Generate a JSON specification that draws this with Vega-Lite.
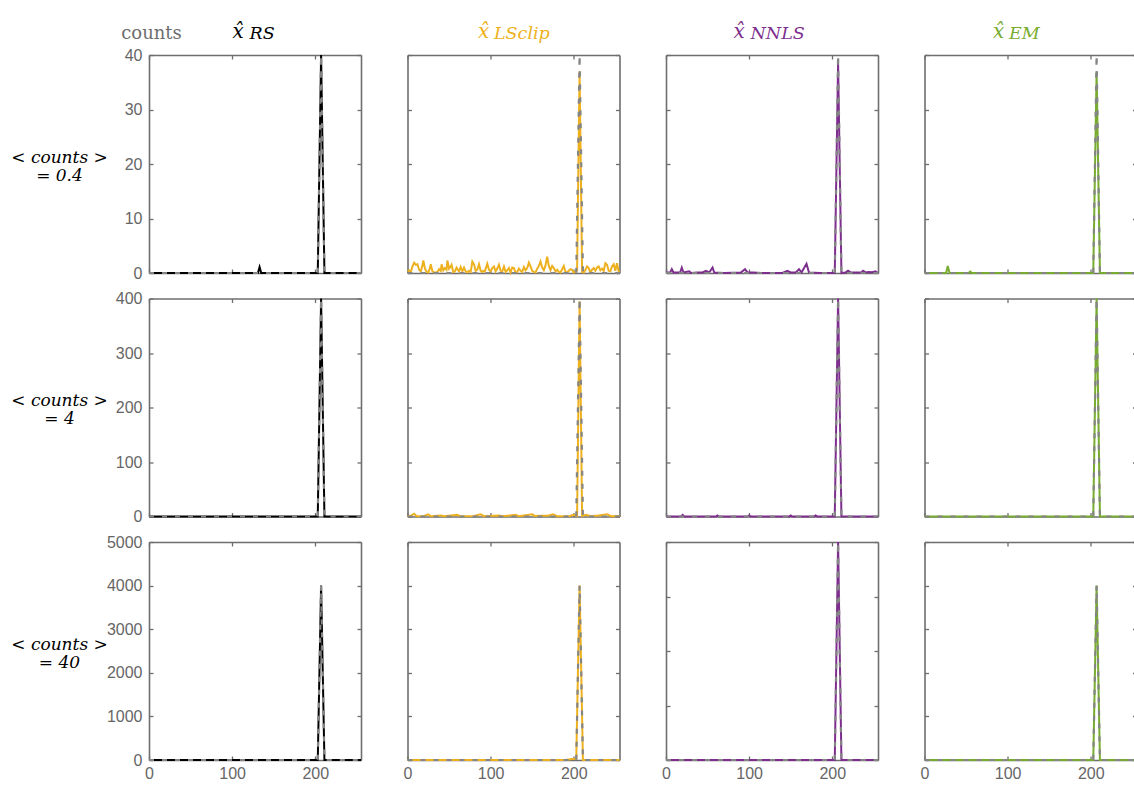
{
"$schema": "https://vega.github.io/schema/vega-lite/v6.json",
"padding": {"left": 10, "top": 21, "right": 0, "bottom": 3},
"background": "white",
"datasets": {
"truth": [
{"r":1,"x":0,"y":0},{"r":1,"x":203,"y":0},{"r":1,"x":207,"y":40},{"r":1,"x":211,"y":0},{"r":1,"x":255,"y":0},
{"r":2,"x":0,"y":0},{"r":2,"x":203,"y":0},{"r":2,"x":207,"y":400},{"r":2,"x":211,"y":0},{"r":2,"x":255,"y":0},
{"r":3,"x":0,"y":0},{"r":3,"x":203,"y":0},{"r":3,"x":207,"y":4000},{"r":3,"x":211,"y":0},{"r":3,"x":255,"y":0}
],
"est": [
{"r":1,"m":"RS","x":0,"y":0},{"r":1,"m":"RS","x":131,"y":0},{"r":1,"m":"RS","x":133,"y":1.1},{"r":1,"m":"RS","x":135,"y":0},{"r":1,"m":"RS","x":203,"y":0},{"r":1,"m":"RS","x":207,"y":40},{"r":1,"m":"RS","x":211,"y":0},{"r":1,"m":"RS","x":255,"y":0},
{"r":2,"m":"RS","x":0,"y":0},{"r":2,"m":"RS","x":203,"y":0},{"r":2,"m":"RS","x":207,"y":400},{"r":2,"m":"RS","x":211,"y":0},{"r":2,"m":"RS","x":255,"y":0},
{"r":3,"m":"RS","x":0,"y":0},{"r":3,"m":"RS","x":203,"y":0},{"r":3,"m":"RS","x":207,"y":4000},{"r":3,"m":"RS","x":211,"y":0},{"r":3,"m":"RS","x":255,"y":0},

{"r":1,"m":"LS","x":0,"y":0.3},{"r":1,"m":"LS","x":2,"y":0.5},{"r":1,"m":"LS","x":4,"y":0.2},{"r":1,"m":"LS","x":6,"y":1.2},{"r":1,"m":"LS","x":8,"y":1.9},{"r":1,"m":"LS","x":10,"y":1.5},{"r":1,"m":"LS","x":12,"y":1.6},{"r":1,"m":"LS","x":14,"y":0.6},{"r":1,"m":"LS","x":16,"y":0.3},{"r":1,"m":"LS","x":18,"y":1.4},{"r":1,"m":"LS","x":19,"y":2.3},{"r":1,"m":"LS","x":21,"y":0.8},{"r":1,"m":"LS","x":23,"y":0.2},{"r":1,"m":"LS","x":25,"y":0.1},{"r":1,"m":"LS","x":27,"y":0.9},{"r":1,"m":"LS","x":28,"y":1.6},{"r":1,"m":"LS","x":30,"y":0.3},{"r":1,"m":"LS","x":32,"y":0.1},{"r":1,"m":"LS","x":34,"y":0.1},{"r":1,"m":"LS","x":36,"y":0.2},{"r":1,"m":"LS","x":38,"y":0.7},{"r":1,"m":"LS","x":40,"y":0.4},{"r":1,"m":"LS","x":41,"y":1.6},{"r":1,"m":"LS","x":43,"y":0.5},{"r":1,"m":"LS","x":45,"y":0.9},{"r":1,"m":"LS","x":47,"y":0.6},{"r":1,"m":"LS","x":48,"y":2.3},{"r":1,"m":"LS","x":50,"y":0.8},{"r":1,"m":"LS","x":52,"y":1.2},{"r":1,"m":"LS","x":53,"y":1.5},{"r":1,"m":"LS","x":55,"y":0.2},{"r":1,"m":"LS","x":57,"y":0.3},{"r":1,"m":"LS","x":59,"y":1.0},{"r":1,"m":"LS","x":61,"y":0.5},{"r":1,"m":"LS","x":62,"y":0.3},{"r":1,"m":"LS","x":64,"y":1.1},{"r":1,"m":"LS","x":66,"y":0.3},{"r":1,"m":"LS","x":68,"y":1.0},{"r":1,"m":"LS","x":70,"y":0.3},{"r":1,"m":"LS","x":72,"y":0.1},{"r":1,"m":"LS","x":74,"y":0.4},{"r":1,"m":"LS","x":76,"y":0.2},{"r":1,"m":"LS","x":78,"y":2.1},{"r":1,"m":"LS","x":80,"y":1.6},{"r":1,"m":"LS","x":82,"y":0.4},{"r":1,"m":"LS","x":84,"y":0.6},{"r":1,"m":"LS","x":86,"y":1.6},{"r":1,"m":"LS","x":88,"y":0.4},{"r":1,"m":"LS","x":90,"y":0.2},{"r":1,"m":"LS","x":91,"y":0.4},{"r":1,"m":"LS","x":93,"y":0.3},{"r":1,"m":"LS","x":96,"y":1.7},{"r":1,"m":"LS","x":98,"y":0.6},{"r":1,"m":"LS","x":100,"y":0.3},{"r":1,"m":"LS","x":102,"y":0.9},{"r":1,"m":"LS","x":104,"y":1.2},{"r":1,"m":"LS","x":106,"y":0.3},{"r":1,"m":"LS","x":108,"y":0.8},{"r":1,"m":"LS","x":110,"y":1.5},{"r":1,"m":"LS","x":112,"y":0.4},{"r":1,"m":"LS","x":114,"y":0.3},{"r":1,"m":"LS","x":116,"y":1.2},{"r":1,"m":"LS","x":118,"y":0.2},{"r":1,"m":"LS","x":120,"y":0.5},{"r":1,"m":"LS","x":122,"y":0.9},{"r":1,"m":"LS","x":124,"y":0.1},{"r":1,"m":"LS","x":126,"y":1.0},{"r":1,"m":"LS","x":128,"y":0.9},{"r":1,"m":"LS","x":130,"y":0.1},{"r":1,"m":"LS","x":132,"y":0.2},{"r":1,"m":"LS","x":134,"y":0.8},{"r":1,"m":"LS","x":136,"y":0.4},{"r":1,"m":"LS","x":138,"y":0.2},{"r":1,"m":"LS","x":140,"y":1.1},{"r":1,"m":"LS","x":142,"y":0.5},{"r":1,"m":"LS","x":144,"y":0.9},{"r":1,"m":"LS","x":146,"y":1.9},{"r":1,"m":"LS","x":148,"y":1.2},{"r":1,"m":"LS","x":150,"y":0.4},{"r":1,"m":"LS","x":152,"y":0.2},{"r":1,"m":"LS","x":154,"y":0.1},{"r":1,"m":"LS","x":156,"y":0.8},{"r":1,"m":"LS","x":158,"y":1.3},{"r":1,"m":"LS","x":160,"y":2.1},{"r":1,"m":"LS","x":162,"y":1.0},{"r":1,"m":"LS","x":164,"y":0.5},{"r":1,"m":"LS","x":166,"y":1.4},{"r":1,"m":"LS","x":168,"y":3.0},{"r":1,"m":"LS","x":170,"y":1.3},{"r":1,"m":"LS","x":172,"y":0.5},{"r":1,"m":"LS","x":174,"y":1.3},{"r":1,"m":"LS","x":176,"y":0.9},{"r":1,"m":"LS","x":178,"y":0.3},{"r":1,"m":"LS","x":180,"y":0.6},{"r":1,"m":"LS","x":182,"y":0.2},{"r":1,"m":"LS","x":184,"y":0.1},{"r":1,"m":"LS","x":186,"y":0.7},{"r":1,"m":"LS","x":188,"y":1.3},{"r":1,"m":"LS","x":190,"y":0.2},{"r":1,"m":"LS","x":192,"y":0.1},{"r":1,"m":"LS","x":194,"y":0.4},{"r":1,"m":"LS","x":196,"y":0.7},{"r":1,"m":"LS","x":198,"y":0.6},{"r":1,"m":"LS","x":200,"y":0.1},{"r":1,"m":"LS","x":202,"y":0.2},{"r":1,"m":"LS","x":204,"y":0.5},{"r":1,"m":"LS","x":207,"y":37},{"r":1,"m":"LS","x":210,"y":0.2},{"r":1,"m":"LS","x":212,"y":0.1},{"r":1,"m":"LS","x":214,"y":0.6},{"r":1,"m":"LS","x":216,"y":1.2},{"r":1,"m":"LS","x":218,"y":0.9},{"r":1,"m":"LS","x":220,"y":0.1},{"r":1,"m":"LS","x":222,"y":0.6},{"r":1,"m":"LS","x":224,"y":0.9},{"r":1,"m":"LS","x":226,"y":0.4},{"r":1,"m":"LS","x":228,"y":1.0},{"r":1,"m":"LS","x":230,"y":1.2},{"r":1,"m":"LS","x":232,"y":0.5},{"r":1,"m":"LS","x":234,"y":0.8},{"r":1,"m":"LS","x":236,"y":0.4},{"r":1,"m":"LS","x":238,"y":1.8},{"r":1,"m":"LS","x":240,"y":1.5},{"r":1,"m":"LS","x":242,"y":0.4},{"r":1,"m":"LS","x":244,"y":0.3},{"r":1,"m":"LS","x":246,"y":1.2},{"r":1,"m":"LS","x":248,"y":1.6},{"r":1,"m":"LS","x":250,"y":0.4},{"r":1,"m":"LS","x":252,"y":1.8},{"r":1,"m":"LS","x":254,"y":0.3},{"r":1,"m":"LS","x":255,"y":0.1},
{"r":2,"m":"LS","x":0,"y":0},{"r":2,"m":"LS","x":5,"y":2},{"r":2,"m":"LS","x":8,"y":5},{"r":2,"m":"LS","x":11,"y":0.5},{"r":2,"m":"LS","x":20,"y":1},{"r":2,"m":"LS","x":25,"y":4},{"r":2,"m":"LS","x":28,"y":0.5},{"r":2,"m":"LS","x":40,"y":2},{"r":2,"m":"LS","x":44,"y":0.3},{"r":2,"m":"LS","x":60,"y":3},{"r":2,"m":"LS","x":63,"y":0.5},{"r":2,"m":"LS","x":80,"y":1},{"r":2,"m":"LS","x":88,"y":4},{"r":2,"m":"LS","x":92,"y":0.5},{"r":2,"m":"LS","x":110,"y":2},{"r":2,"m":"LS","x":114,"y":0.4},{"r":2,"m":"LS","x":130,"y":3},{"r":2,"m":"LS","x":134,"y":0.5},{"r":2,"m":"LS","x":150,"y":4},{"r":2,"m":"LS","x":153,"y":1},{"r":2,"m":"LS","x":170,"y":2},{"r":2,"m":"LS","x":175,"y":4},{"r":2,"m":"LS","x":180,"y":0.5},{"r":2,"m":"LS","x":195,"y":1},{"r":2,"m":"LS","x":200,"y":3},{"r":2,"m":"LS","x":204,"y":1},{"r":2,"m":"LS","x":207,"y":395},{"r":2,"m":"LS","x":210,"y":1},{"r":2,"m":"LS","x":215,"y":3},{"r":2,"m":"LS","x":220,"y":0.5},{"r":2,"m":"LS","x":230,"y":2},{"r":2,"m":"LS","x":240,"y":4},{"r":2,"m":"LS","x":245,"y":0.5},{"r":2,"m":"LS","x":255,"y":1},
{"r":3,"m":"LS","x":0,"y":0},{"r":3,"m":"LS","x":190,"y":0},{"r":3,"m":"LS","x":198,"y":25},{"r":3,"m":"LS","x":203,"y":30},{"r":3,"m":"LS","x":207,"y":4000},{"r":3,"m":"LS","x":211,"y":0},{"r":3,"m":"LS","x":255,"y":0},

{"r":1,"m":"NN","x":0,"y":0.1},{"r":1,"m":"NN","x":5,"y":0.1},{"r":1,"m":"NN","x":7,"y":0.7},{"r":1,"m":"NN","x":9,"y":0.1},{"r":1,"m":"NN","x":17,"y":0.1},{"r":1,"m":"NN","x":19,"y":1.0},{"r":1,"m":"NN","x":21,"y":0.1},{"r":1,"m":"NN","x":28,"y":0.3},{"r":1,"m":"NN","x":30,"y":0},{"r":1,"m":"NN","x":38,"y":0.1},{"r":1,"m":"NN","x":44,"y":0.1},{"r":1,"m":"NN","x":48,"y":0.4},{"r":1,"m":"NN","x":52,"y":0.1},{"r":1,"m":"NN","x":56,"y":1.0},{"r":1,"m":"NN","x":58,"y":0.1},{"r":1,"m":"NN","x":70,"y":0},{"r":1,"m":"NN","x":90,"y":0.1},{"r":1,"m":"NN","x":95,"y":0.7},{"r":1,"m":"NN","x":98,"y":0.1},{"r":1,"m":"NN","x":105,"y":0.1},{"r":1,"m":"NN","x":115,"y":0},{"r":1,"m":"NN","x":140,"y":0},{"r":1,"m":"NN","x":146,"y":0.4},{"r":1,"m":"NN","x":150,"y":0.1},{"r":1,"m":"NN","x":156,"y":0.1},{"r":1,"m":"NN","x":160,"y":0.7},{"r":1,"m":"NN","x":163,"y":0.1},{"r":1,"m":"NN","x":169,"y":1.7},{"r":1,"m":"NN","x":172,"y":0.1},{"r":1,"m":"NN","x":185,"y":0},{"r":1,"m":"NN","x":203,"y":0},{"r":1,"m":"NN","x":207,"y":38.5},{"r":1,"m":"NN","x":211,"y":0},{"r":1,"m":"NN","x":216,"y":0.1},{"r":1,"m":"NN","x":219,"y":0.4},{"r":1,"m":"NN","x":222,"y":0.1},{"r":1,"m":"NN","x":235,"y":0.1},{"r":1,"m":"NN","x":237,"y":0.4},{"r":1,"m":"NN","x":240,"y":0.1},{"r":1,"m":"NN","x":244,"y":0.2},{"r":1,"m":"NN","x":248,"y":0.15},{"r":1,"m":"NN","x":252,"y":0.3},{"r":1,"m":"NN","x":255,"y":0},
{"r":2,"m":"NN","x":0,"y":0},{"r":2,"m":"NN","x":18,"y":0},{"r":2,"m":"NN","x":20,"y":3},{"r":2,"m":"NN","x":22,"y":0},{"r":2,"m":"NN","x":60,"y":0},{"r":2,"m":"NN","x":62,"y":2},{"r":2,"m":"NN","x":64,"y":0},{"r":2,"m":"NN","x":98,"y":0},{"r":2,"m":"NN","x":100,"y":2},{"r":2,"m":"NN","x":102,"y":0},{"r":2,"m":"NN","x":148,"y":0},{"r":2,"m":"NN","x":150,"y":2},{"r":2,"m":"NN","x":152,"y":0},{"r":2,"m":"NN","x":178,"y":0},{"r":2,"m":"NN","x":180,"y":2},{"r":2,"m":"NN","x":182,"y":0},{"r":2,"m":"NN","x":203,"y":0},{"r":2,"m":"NN","x":207,"y":400},{"r":2,"m":"NN","x":211,"y":0},{"r":2,"m":"NN","x":255,"y":0},
{"r":3,"m":"NN","x":0,"y":0},{"r":3,"m":"NN","x":203,"y":0},{"r":3,"m":"NN","x":207,"y":4000},{"r":3,"m":"NN","x":211,"y":0},{"r":3,"m":"NN","x":255,"y":0},

{"r":1,"m":"EM","x":0,"y":0},{"r":1,"m":"EM","x":26,"y":0},{"r":1,"m":"EM","x":28,"y":1.3},{"r":1,"m":"EM","x":30,"y":0},{"r":1,"m":"EM","x":53,"y":0},{"r":1,"m":"EM","x":55,"y":0.25},{"r":1,"m":"EM","x":57,"y":0},{"r":1,"m":"EM","x":203,"y":0},{"r":1,"m":"EM","x":207,"y":37},{"r":1,"m":"EM","x":211,"y":0},{"r":1,"m":"EM","x":255,"y":0},
{"r":2,"m":"EM","x":0,"y":0},{"r":2,"m":"EM","x":203,"y":0},{"r":2,"m":"EM","x":207,"y":400},{"r":2,"m":"EM","x":211,"y":0},{"r":2,"m":"EM","x":255,"y":0},
{"r":3,"m":"EM","x":0,"y":0},{"r":3,"m":"EM","x":203,"y":0},{"r":3,"m":"EM","x":207,"y":4000},{"r":3,"m":"EM","x":211,"y":0},{"r":3,"m":"EM","x":255,"y":0}
]
},
"columns": 4,
"spacing": {"row": 25.5, "column": 46.5},
"bounds": "flush",
"concat": [
{"width":212,"height":218,
 "layer":[
  {"data":{"name":"est"},"transform":[{"filter":"datum.r==1 && datum.m=='RS'"}],"mark":{"type":"line","color":"black","strokeWidth":2},
   "encoding":{"x":{"field":"x","type":"quantitative","scale":{"domain":[0,255]},"axis":{"orient":"bottom","values":[0,100,200],"labels":false,"title":"x\u0302","titleX":83,"titleY":-236,"titleAlign":"left","titleBaseline":"alphabetic","titleAngle":0,"titleFont":"DejaVu Serif","titleFontStyle":"italic","titleFontSize":20,"titleColor":"black"}},
    "y":{"field":"y","type":"quantitative","scale":{"domain":[0,40]},"axis":{"orient":"left","values":[0,10,20,30,40],"title":["< counts >","= 0.4"],"titleAngle":0,"titleAlign":"center","titleBaseline":"middle","titleX":-90,"titleY":102,"titleFont":"DejaVu Serif","titleFontStyle":"italic","titleFontSize":17,"titleColor":"black","titleLineHeight":18}}}},
  {"data":{"name":"truth"},"transform":[{"filter":"datum.r==1"}],"mark":{"type":"line","color":"#858585","strokeWidth":2.2,"strokeDash":[5,8]},
   "encoding":{"x":{"field":"x","type":"quantitative","scale":{"domain":[0,255]},"axis":{"orient":"top","values":[0,100,200],"labels":false,"title":"RS","titleX":100,"titleY":-17,"titleAlign":"left","titleBaseline":"alphabetic","titleFont":"DejaVu Serif","titleFontStyle":"italic","titleFontSize":17.5,"titleColor":"black"}},
    "y":{"field":"y","type":"quantitative","scale":{"domain":[0,40]},"axis":{"orient":"right","values":[0,10,20,30,40],"labels":false,"title":"counts","titleAngle":0,"titleAlign":"center","titleBaseline":"middle","titleX":-210,"titleY":-22,"titleFont":"DejaVu Serif","titleFontSize":18,"titleColor":"#6e6e6e"}}}}
 ],
 "resolve":{"axis":{"x":"independent","y":"independent"}}},
{"width":212,"height":218,
 "layer":[
  {"data":{"name":"est"},"transform":[{"filter":"datum.r==1 && datum.m=='LS'"}],"mark":{"type":"line","color":"#EDB120","strokeWidth":2},
   "encoding":{"x":{"field":"x","type":"quantitative","scale":{"domain":[0,255]},"axis":{"orient":"bottom","values":[0,100,200],"labels":false,"title":"x\u0302","titleX":70,"titleY":-236,"titleAlign":"left","titleBaseline":"alphabetic","titleAngle":0,"titleFont":"DejaVu Serif","titleFontStyle":"italic","titleFontSize":20,"titleColor":"#EDB120"}},
    "y":{"field":"y","type":"quantitative","scale":{"domain":[0,40]},"axis":{"orient":"left","values":[0,10,20,30,40],"labels":false,"title":null}}}},
  {"data":{"name":"truth"},"transform":[{"filter":"datum.r==1"}],"mark":{"type":"line","color":"#858585","strokeWidth":2.2,"strokeDash":[5,8]},
   "encoding":{"x":{"field":"x","type":"quantitative","scale":{"domain":[0,255]},"axis":{"orient":"top","values":[0,100,200],"labels":false,"title":"LSclip","titleX":86,"titleY":-17,"titleAlign":"left","titleBaseline":"alphabetic","titleFont":"DejaVu Serif","titleFontStyle":"italic","titleFontSize":17.5,"titleColor":"#EDB120"}},
    "y":{"field":"y","type":"quantitative","scale":{"domain":[0,40]},"axis":{"orient":"right","values":[0,10,20,30,40],"labels":false,"title":null}}}}
 ],
 "resolve":{"axis":{"x":"independent","y":"independent"}}},
{"width":212,"height":218,
 "layer":[
  {"data":{"name":"est"},"transform":[{"filter":"datum.r==1 && datum.m=='NN'"}],"mark":{"type":"line","color":"#7E2F8E","strokeWidth":2},
   "encoding":{"x":{"field":"x","type":"quantitative","scale":{"domain":[0,255]},"axis":{"orient":"bottom","values":[0,100,200],"labels":false,"title":"x\u0302","titleX":67,"titleY":-236,"titleAlign":"left","titleBaseline":"alphabetic","titleAngle":0,"titleFont":"DejaVu Serif","titleFontStyle":"italic","titleFontSize":20,"titleColor":"#7E2F8E"}},
    "y":{"field":"y","type":"quantitative","scale":{"domain":[0,40]},"axis":{"orient":"left","values":[0,10,20,30,40],"labels":false,"title":null}}}},
  {"data":{"name":"truth"},"transform":[{"filter":"datum.r==1"}],"mark":{"type":"line","color":"#858585","strokeWidth":2.2,"strokeDash":[5,8]},
   "encoding":{"x":{"field":"x","type":"quantitative","scale":{"domain":[0,255]},"axis":{"orient":"top","values":[0,100,200],"labels":false,"title":"NNLS","titleX":84,"titleY":-17,"titleAlign":"left","titleBaseline":"alphabetic","titleFont":"DejaVu Serif","titleFontStyle":"italic","titleFontSize":17.5,"titleColor":"#7E2F8E"}},
    "y":{"field":"y","type":"quantitative","scale":{"domain":[0,40]},"axis":{"orient":"right","values":[0,10,20,30,40],"labels":false,"title":null}}}}
 ],
 "resolve":{"axis":{"x":"independent","y":"independent"}}},
{"width":212,"height":218,
 "layer":[
  {"data":{"name":"est"},"transform":[{"filter":"datum.r==1 && datum.m=='EM'"}],"mark":{"type":"line","color":"#77AC30","strokeWidth":2},
   "encoding":{"x":{"field":"x","type":"quantitative","scale":{"domain":[0,255]},"axis":{"orient":"bottom","values":[0,100,200],"labels":false,"title":"x\u0302","titleX":68,"titleY":-236,"titleAlign":"left","titleBaseline":"alphabetic","titleAngle":0,"titleFont":"DejaVu Serif","titleFontStyle":"italic","titleFontSize":20,"titleColor":"#77AC30"}},
    "y":{"field":"y","type":"quantitative","scale":{"domain":[0,40]},"axis":{"orient":"left","values":[0,10,20,30,40],"labels":false,"title":null}}}},
  {"data":{"name":"truth"},"transform":[{"filter":"datum.r==1"}],"mark":{"type":"line","color":"#858585","strokeWidth":2.2,"strokeDash":[5,8]},
   "encoding":{"x":{"field":"x","type":"quantitative","scale":{"domain":[0,255]},"axis":{"orient":"top","values":[0,100,200],"labels":false,"title":"EM","titleX":84,"titleY":-17,"titleAlign":"left","titleBaseline":"alphabetic","titleFont":"DejaVu Serif","titleFontStyle":"italic","titleFontSize":17.5,"titleColor":"#77AC30"}},
    "y":{"field":"y","type":"quantitative","scale":{"domain":[0,40]},"axis":{"orient":"right","values":[0,10,20,30,40],"labels":false,"title":null}}}}
 ],
 "resolve":{"axis":{"x":"independent","y":"independent"}}},

{"width":212,"height":218,
 "layer":[
  {"data":{"name":"est"},"transform":[{"filter":"datum.r==2 && datum.m=='RS'"}],"mark":{"type":"line","color":"black","strokeWidth":2},
   "encoding":{"x":{"field":"x","type":"quantitative","scale":{"domain":[0,255]},"axis":{"orient":"bottom","values":[0,100,200],"labels":false,"title":null}},
    "y":{"field":"y","type":"quantitative","scale":{"domain":[0,400]},"axis":{"orient":"left","values":[0,100,200,300,400],"title":["< counts >","= 4"],"titleAngle":0,"titleAlign":"center","titleBaseline":"middle","titleX":-90,"titleY":102,"titleFont":"DejaVu Serif","titleFontStyle":"italic","titleFontSize":17,"titleColor":"black","titleLineHeight":18}}}},
  {"data":{"name":"truth"},"transform":[{"filter":"datum.r==2"}],"mark":{"type":"line","color":"#858585","strokeWidth":2.2,"strokeDash":[5,8]},
   "encoding":{"x":{"field":"x","type":"quantitative","scale":{"domain":[0,255]},"axis":{"orient":"top","values":[0,100,200],"labels":false,"title":null}},
    "y":{"field":"y","type":"quantitative","scale":{"domain":[0,400]},"axis":{"orient":"right","values":[0,100,200,300,400],"labels":false,"title":null}}}}
 ],
 "resolve":{"axis":{"x":"independent","y":"independent"}}},
{"width":212,"height":218,
 "layer":[
  {"data":{"name":"est"},"transform":[{"filter":"datum.r==2 && datum.m=='LS'"}],"mark":{"type":"line","color":"#EDB120","strokeWidth":2},
   "encoding":{"x":{"field":"x","type":"quantitative","scale":{"domain":[0,255]},"axis":{"orient":"bottom","values":[0,100,200],"labels":false,"title":null}},
    "y":{"field":"y","type":"quantitative","scale":{"domain":[0,400]},"axis":{"orient":"left","values":[0,100,200,300,400],"labels":false,"title":null}}}},
  {"data":{"name":"truth"},"transform":[{"filter":"datum.r==2"}],"mark":{"type":"line","color":"#858585","strokeWidth":2.2,"strokeDash":[5,8]},
   "encoding":{"x":{"field":"x","type":"quantitative","scale":{"domain":[0,255]},"axis":{"orient":"top","values":[0,100,200],"labels":false,"title":null}},
    "y":{"field":"y","type":"quantitative","scale":{"domain":[0,400]},"axis":{"orient":"right","values":[0,100,200,300,400],"labels":false,"title":null}}}}
 ],
 "resolve":{"axis":{"x":"independent","y":"independent"}}},
{"width":212,"height":218,
 "layer":[
  {"data":{"name":"est"},"transform":[{"filter":"datum.r==2 && datum.m=='NN'"}],"mark":{"type":"line","color":"#7E2F8E","strokeWidth":2},
   "encoding":{"x":{"field":"x","type":"quantitative","scale":{"domain":[0,255]},"axis":{"orient":"bottom","values":[0,100,200],"labels":false,"title":null}},
    "y":{"field":"y","type":"quantitative","scale":{"domain":[0,400]},"axis":{"orient":"left","values":[0,100,200,300,400],"labels":false,"title":null}}}},
  {"data":{"name":"truth"},"transform":[{"filter":"datum.r==2"}],"mark":{"type":"line","color":"#858585","strokeWidth":2.2,"strokeDash":[5,8]},
   "encoding":{"x":{"field":"x","type":"quantitative","scale":{"domain":[0,255]},"axis":{"orient":"top","values":[0,100,200],"labels":false,"title":null}},
    "y":{"field":"y","type":"quantitative","scale":{"domain":[0,400]},"axis":{"orient":"right","values":[0,100,200,300,400],"labels":false,"title":null}}}}
 ],
 "resolve":{"axis":{"x":"independent","y":"independent"}}},
{"width":212,"height":218,
 "layer":[
  {"data":{"name":"est"},"transform":[{"filter":"datum.r==2 && datum.m=='EM'"}],"mark":{"type":"line","color":"#77AC30","strokeWidth":2},
   "encoding":{"x":{"field":"x","type":"quantitative","scale":{"domain":[0,255]},"axis":{"orient":"bottom","values":[0,100,200],"labels":false,"title":null}},
    "y":{"field":"y","type":"quantitative","scale":{"domain":[0,400]},"axis":{"orient":"left","values":[0,100,200,300,400],"labels":false,"title":null}}}},
  {"data":{"name":"truth"},"transform":[{"filter":"datum.r==2"}],"mark":{"type":"line","color":"#858585","strokeWidth":2.2,"strokeDash":[5,8]},
   "encoding":{"x":{"field":"x","type":"quantitative","scale":{"domain":[0,255]},"axis":{"orient":"top","values":[0,100,200],"labels":false,"title":null}},
    "y":{"field":"y","type":"quantitative","scale":{"domain":[0,400]},"axis":{"orient":"right","values":[0,100,200,300,400],"labels":false,"title":null}}}}
 ],
 "resolve":{"axis":{"x":"independent","y":"independent"}}},

{"width":212,"height":218,
 "layer":[
  {"data":{"name":"est"},"transform":[{"filter":"datum.r==3 && datum.m=='RS'"}],"mark":{"type":"line","color":"black","strokeWidth":2},
   "encoding":{"x":{"field":"x","type":"quantitative","scale":{"domain":[0,255]},"axis":{"orient":"bottom","values":[0,100,200],"title":null}},
    "y":{"field":"y","type":"quantitative","scale":{"domain":[0,5000]},"axis":{"orient":"left","values":[0,1000,2000,3000,4000,5000],"format":"d","title":["< counts >","= 40"],"titleAngle":0,"titleAlign":"center","titleBaseline":"middle","titleX":-90,"titleY":102,"titleFont":"DejaVu Serif","titleFontStyle":"italic","titleFontSize":17,"titleColor":"black","titleLineHeight":18}}}},
  {"data":{"name":"truth"},"transform":[{"filter":"datum.r==3"}],"mark":{"type":"line","color":"#858585","strokeWidth":2.2,"strokeDash":[5,8]},
   "encoding":{"x":{"field":"x","type":"quantitative","scale":{"domain":[0,255]},"axis":{"orient":"top","values":[0,100,200],"labels":false,"title":null}},
    "y":{"field":"y","type":"quantitative","scale":{"domain":[0,5000]},"axis":{"orient":"right","values":[0,1000,2000,3000,4000,5000],"labels":false,"title":null}}}}
 ],
 "resolve":{"axis":{"x":"independent","y":"independent"}}},
{"width":212,"height":218,
 "layer":[
  {"data":{"name":"est"},"transform":[{"filter":"datum.r==3 && datum.m=='LS'"}],"mark":{"type":"line","color":"#EDB120","strokeWidth":2},
   "encoding":{"x":{"field":"x","type":"quantitative","scale":{"domain":[0,255]},"axis":{"orient":"bottom","values":[0,100,200],"title":null}},
    "y":{"field":"y","type":"quantitative","scale":{"domain":[0,5000]},"axis":{"orient":"left","values":[0,1000,2000,3000,4000,5000],"labels":false,"title":null}}}},
  {"data":{"name":"truth"},"transform":[{"filter":"datum.r==3"}],"mark":{"type":"line","color":"#858585","strokeWidth":2.2,"strokeDash":[5,8]},
   "encoding":{"x":{"field":"x","type":"quantitative","scale":{"domain":[0,255]},"axis":{"orient":"top","values":[0,100,200],"labels":false,"title":null}},
    "y":{"field":"y","type":"quantitative","scale":{"domain":[0,5000]},"axis":{"orient":"right","values":[0,1000,2000,3000,4000,5000],"labels":false,"title":null}}}}
 ],
 "resolve":{"axis":{"x":"independent","y":"independent"}}},
{"width":212,"height":218,
 "layer":[
  {"data":{"name":"est"},"transform":[{"filter":"datum.r==3 && datum.m=='NN'"}],"mark":{"type":"line","color":"#7E2F8E","strokeWidth":2},
   "encoding":{"x":{"field":"x","type":"quantitative","scale":{"domain":[0,255]},"axis":{"orient":"bottom","values":[0,100,200],"title":null}},
    "y":{"field":"y","type":"quantitative","scale":{"domain":[0,4000]},"axis":{"orient":"left","values":[0,1000,2000,3000,4000],"labels":false,"title":null}}}},
  {"data":{"name":"truth"},"transform":[{"filter":"datum.r==3"}],"mark":{"type":"line","color":"#858585","strokeWidth":2.2,"strokeDash":[5,8]},
   "encoding":{"x":{"field":"x","type":"quantitative","scale":{"domain":[0,255]},"axis":{"orient":"top","values":[0,100,200],"labels":false,"title":null}},
    "y":{"field":"y","type":"quantitative","scale":{"domain":[0,4000]},"axis":{"orient":"right","values":[0,1000,2000,3000,4000],"labels":false,"title":null}}}}
 ],
 "resolve":{"axis":{"x":"independent","y":"independent"}}},
{"width":212,"height":218,
 "layer":[
  {"data":{"name":"est"},"transform":[{"filter":"datum.r==3 && datum.m=='EM'"}],"mark":{"type":"line","color":"#77AC30","strokeWidth":2},
   "encoding":{"x":{"field":"x","type":"quantitative","scale":{"domain":[0,255]},"axis":{"orient":"bottom","values":[0,100,200],"title":null}},
    "y":{"field":"y","type":"quantitative","scale":{"domain":[0,5000]},"axis":{"orient":"left","values":[0,1000,2000,3000,4000,5000],"labels":false,"title":null}}}},
  {"data":{"name":"truth"},"transform":[{"filter":"datum.r==3"}],"mark":{"type":"line","color":"#858585","strokeWidth":2.2,"strokeDash":[5,8]},
   "encoding":{"x":{"field":"x","type":"quantitative","scale":{"domain":[0,255]},"axis":{"orient":"top","values":[0,100,200],"labels":false,"title":null}},
    "y":{"field":"y","type":"quantitative","scale":{"domain":[0,5000]},"axis":{"orient":"right","values":[0,1000,2000,3000,4000,5000],"labels":false,"title":null}}}}
 ],
 "resolve":{"axis":{"x":"independent","y":"independent"}}}
],
"config": {
 "view": {"stroke": null},
 "axis": {"domainColor":"#6e6e6e","domainWidth":1.6,"tickColor":"#6e6e6e","tickWidth":1.3,"tickSize":-4,"labelFont":"Liberation Sans","labelFontSize":16,"labelColor":"#666666","grid":false,"titleFontWeight":"normal"},
 "axisX": {"labelPadding": 9, "labelFlush": false},
 "axisY": {"labelPadding": 11}
}
}
